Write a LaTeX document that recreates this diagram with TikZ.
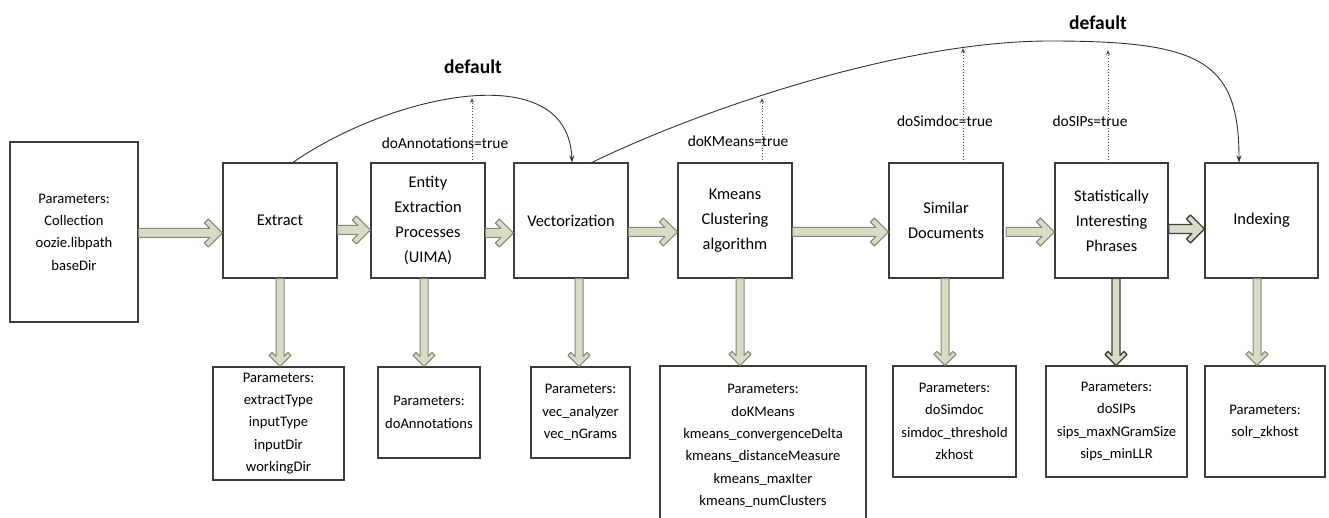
\documentclass[tikz,border=0pt]{standalone}
\usepackage{fontspec}
\setmainfont{Carlito}
\usetikzlibrary{calc,arrows.meta}
\definecolor{arrfill}{HTML}{D8DBC6}
\definecolor{arrline}{HTML}{858776}
\definecolor{boxline}{HTML}{3C3C3C}
\tikzset{
 box/.style={draw=boxline, line width=1.2pt, fill=white, inner sep=0pt, align=center, font=\fontsize{16.4}{25}\selectfont},
 pbox/.style={box, font=\fontsize{14.6}{22.3}\selectfont},
 lbl/.style={inner sep=0pt, font=\fontsize{15.4}{18}\selectfont},
 dflt/.style={inner sep=0pt, font=\fontsize{19.5}{22}\selectfont\bfseries},
 barrow/.style={draw=arrline, fill=arrfill, line width=1pt, line join=round},
 darrow/.style={barrow, draw=black!75, line width=1.3pt},
 curve/.style={draw=black!80, line width=0.9pt, -{Stealth[length=7pt,width=5pt]}},
 dotarrow/.style={draw=black!70, line width=0.8pt, dotted, -{Stealth[length=5pt,width=4pt]}}
}
\newcommand\harr[3][barrow]{%
 \path[#1] let \p1=(#2), \p2=(#3) in (\x1,\y1+4.5pt) -- (\x2-12.5pt,\y1+4.5pt) -- (\x2-18pt,\y1+10pt) -- (\x2-14pt,\y1+14pt) -- (\x2,\y1) -- (\x2-14pt,\y1-14pt) -- (\x2-18pt,\y1-10pt) -- (\x2-12.5pt,\y1-4.5pt) -- (\x1,\y1-4.5pt) -- cycle;}
\newcommand\varr[3][barrow]{%
 \path[#1] let \p1=(#2), \p2=(#3) in (\x1-4pt,\y1) -- (\x1-4pt,\y2+10pt) -- (\x1-8pt,\y2+14pt) -- (\x1-11pt,\y2+11pt) -- (\x1,\y2) -- (\x1+11pt,\y2+11pt) -- (\x1+8pt,\y2+14pt) -- (\x1+4pt,\y2+10pt) -- (\x1+4pt,\y1) -- cycle;}
\begin{document}
\begin{tikzpicture}[x=1pt,y=-1pt]
\fill[white] (0,0) rectangle (1329,518);
\clip (0,0) rectangle (1329,518);
% main row
\node[pbox, minimum width=128pt, minimum height=180pt] (params) at (74,232) {Parameters:\\Collection\\oozie.libpath\\baseDir};
\node[box, minimum width=114pt, minimum height=115pt] (extract) at (280,220.5) {Extract};
\node[box, minimum width=114pt, minimum height=115pt] (entity) at (428,220.5) {Entity\\Extraction\\Processes\\(UIMA)};
\node[box, minimum width=114pt, minimum height=115pt] (vector) at (571,220.5) {Vectorization};
\node[box, minimum width=114pt, minimum height=115pt] (kmeans) at (735,220.5) {Kmeans\\Clustering\\algorithm};
\node[box, minimum width=114pt, minimum height=115pt] (similar) at (946,220.5) {Similar\\Documents};
\node[box, minimum width=113pt, minimum height=115pt] (sips) at (1111.5,220.5) {Statistically\\Interesting\\Phrases};
\node[box, minimum width=113pt, minimum height=115pt] (index) at (1261.5,220.5) {Indexing};
% parameter row
\node[pbox, minimum width=131pt, minimum height=113pt] (p1) at (278.5,423.5) {Parameters:\\extractType\\inputType\\inputDir\\workingDir};
\node[pbox, minimum width=102pt, minimum height=91pt] (p2) at (429,412.5) {Parameters:\\doAnnotations};
\node[pbox, minimum width=99pt, minimum height=91pt] (p3) at (580.5,412.5) {Parameters:\\vec\_analyzer\\vec\_nGrams};
\node[pbox, minimum width=206pt, minimum height=160pt] (p4) at (763,446) {Parameters:\\doKMeans\\kmeans\_convergenceDelta\\kmeans\_distanceMeasure\\kmeans\_maxIter\\kmeans\_numClusters};
\node[pbox, minimum width=123pt, minimum height=111pt] (p5) at (954.5,421.5) {Parameters:\\doSimdoc\\simdoc\_threshold\\zkhost};
\node[pbox, minimum width=141pt, minimum height=111pt] (p6) at (1116.5,421.5) {Parameters:\\doSIPs\\sips\_maxNGramSize\\sips\_minLLR};
\node[pbox, minimum width=120pt, minimum height=111pt] (p7) at (1265,421.5) {Parameters:\\solr\_zkhost};
% horizontal block arrows
\harr{params.east |- 0,233}{extract.west |- 0,233}
\harr{extract.east |- 0,230}{entity.west |- 0,230}
\harr{entity.east |- 0,233}{vector.west |- 0,233}
\harr{vector.east |- 0,232}{kmeans.west |- 0,232}
\harr{kmeans.east |- 0,232}{similar.west |- 0,232}
\harr{1006,232}{sips.west |- 0,232}
\harr[darrow]{sips.east |- 0,229}{index.west |- 0,229}
% vertical block arrows
\varr{extract.south -| 280,0}{p1.north -| 280,0}
\varr{entity.south -| 424,0}{p2.north -| 424,0}
\varr{vector.south -| 579,0}{p3.north -| 579,0}
\varr{kmeans.south -| 740,0}{p4.north -| 740,0}
\varr{similar.south -| 945,0}{p5.north -| 945,0}
\varr[darrow]{sips.south -| 1116,0}{p6.north -| 1116,0}
\varr{index.south -| 1257,0}{p7.north -| 1257,0}
% default curves
\draw[curve] (extract.north -| 293,0) .. controls (390,95) and (568,55) .. (vector.north -| 572,0);
\draw[curve] (vector.north -| 592,0) .. controls (700,110) and (900,41) .. (1050,41) .. controls (1200,41) and (1239,60) .. (index.north -| 1239,0);
% dotted condition arrows
\coordinate (c1) at (472,98);
\coordinate (c2) at (762,98);
\coordinate (c3) at (963,48);
\coordinate (c4) at (1108,50);
\draw[dotarrow] (entity.north -| c1) -- (c1);
\draw[dotarrow] (kmeans.north -| c2) -- (c2);
\draw[dotarrow] (similar.north -| c3) -- (c3);
\draw[dotarrow] (sips.north -| c4) -- (c4);
% labels
\node[lbl] (l1) at (445,143) {doAnnotations=true};
\node[lbl] (l2) at (738,141) {doKMeans=true};
\node[lbl] (l3) at (945,121) {doSimdoc=true};
\node[lbl] (l4) at (1090,121) {doSIPs=true};
\node[dflt] (d1) at (473,67) {default};
\node[dflt] (d2) at (1098,23) {default};
\end{tikzpicture}
\end{document}
